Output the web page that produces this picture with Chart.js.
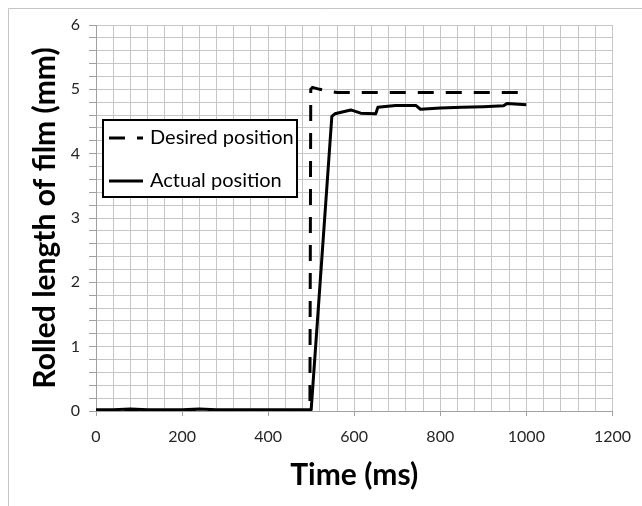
<!DOCTYPE html>
<html><head><meta charset="utf-8">
<script src="https://cdn.jsdelivr.net/npm/chart.js@4.4.0/dist/chart.umd.min.js"></script>
<style>html,body{margin:0;padding:0;background:#fff;}#wrap{width:642px;height:506px;position:relative;}</style>
</head><body><div id="wrap"><canvas id="c" width="642" height="506"></canvas></div>
<script>
const seriesNames = ['Desired position', 'Actual position'];
const desiredTime = [0, 100, 200, 300, 400, 497, 499, 503, 520, 540, 560, 1000];
const desiredPos  = [0, 0, 0, 0, 0, 0, 5.0, 5.03, 5.0, 4.97, 4.95, 4.95];
const actualTime = [0, 40, 80, 120, 160, 200, 240, 280, 320, 360, 400, 440, 480, 500, 548, 555, 592, 615, 650, 655, 696, 743, 754, 800, 850, 900, 947, 955, 1000];
const actualPos  = [0.02, 0.02, 0.03, 0.02, 0.02, 0.02, 0.03, 0.02, 0.02, 0.02, 0.02, 0.02, 0.02, 0.02, 4.58, 4.62, 4.68, 4.63, 4.62, 4.72, 4.75, 4.75, 4.69, 4.71, 4.72, 4.73, 4.745, 4.78, 4.76];
const xTickLabels = [0, 200, 400, 600, 800, 1000, 1200];
const yTickLabels = [0, 1, 2, 3, 4, 5, 6];
const xTitle = 'Time (ms)';
const yTitle = 'Rolled length of film (mm)';

const FONT = 'Lato, "Open Sans", sans-serif';
const GRID = '#c6c6c6';
const AXIS = '#a0a0a0';

const isMajorX = v => xTickLabels.some(t => Math.abs(t - v) < 1e-6);
const isMajorY = v => yTickLabels.some(t => Math.abs(t - v) < 1e-6);

const frame = {
  id: 'frame',
  beforeDraw(chart) {
    const c = chart.ctx;
    c.save();
    c.fillStyle = '#fff';
    c.fillRect(0, 0, chart.width, chart.height);
    c.strokeStyle = '#c4c4c4';
    c.lineWidth = 1;
    c.beginPath();
    c.moveTo(8.5, 506); c.lineTo(8.5, 8.5); c.lineTo(642, 8.5);
    c.stroke();
    c.restore();
  }
};

const legendBox = {
  id: 'legendBox',
  afterDraw(chart) {
    const c = chart.ctx;
    c.save();
    const x = 103, y = 120, w = 194, h = 77;
    c.fillStyle = '#fff';
    c.fillRect(x, y, w, h);
    c.strokeStyle = '#000';
    c.lineWidth = 2;
    c.strokeRect(x, y, w, h);
    const rows = [138, 181];
    chart.data.datasets.forEach((ds, i) => {
      c.beginPath();
      c.setLineDash(ds.borderDash || []);
      c.lineWidth = ds.borderWidth;
      c.strokeStyle = ds.borderColor;
      c.moveTo(109, rows[i]); c.lineTo(143, rows[i]);
      c.stroke();
      c.setLineDash([]);
      c.fillStyle = '#000';
      c.font = '20px ' + FONT;
      c.textBaseline = 'middle';
      c.textAlign = 'left';
      c.fillText(ds.label, 150, rows[i]);
    });
    c.restore();
  }
};

new Chart(document.getElementById('c'), {
  type: 'line',
  data: {
    datasets: [
      {
        label: seriesNames[0],
        data: desiredTime.map((t, i) => ({x: t, y: desiredPos[i]})),
        borderColor: '#000', borderWidth: 3, borderDash: [16, 12],
        pointRadius: 0, tension: 0, fill: false
      },
      {
        label: seriesNames[1],
        data: actualTime.map((t, i) => ({x: t, y: actualPos[i]})),
        borderColor: '#000', borderWidth: 3,
        pointRadius: 0, tension: 0, fill: false, borderJoinStyle: 'round'
      }
    ]
  },
  options: {
    responsive: false,
    animation: false,
    layout: {padding: {top: 25, right: 28, left: 0, bottom: 0}},
    plugins: {legend: {display: false}, tooltip: {enabled: false}},
    scales: {
      x: {
        type: 'linear', min: 0, max: 1200,
        afterFit: s => { s.height = 95; },
        ticks: {
          stepSize: 40, autoSkip: false, maxRotation: 0, padding: 11,
          color: '#262626', font: {family: FONT, size: 16},
          callback: v => isMajorX(v) ? String(Math.round(v)) : ''
        },
        grid: {
          color: GRID, lineWidth: 1, tickLength: 5,
          tickColor: ctx => isMajorX(ctx.tick.value) ? AXIS : 'rgba(0,0,0,0)'
        },
        border: {color: AXIS, width: 1},
        title: {display: true, text: xTitle, color: '#000',
          font: {family: FONT, size: 30, weight: 'bold'}, padding: {top: 0, bottom: 13}}
      },
      y: {
        type: 'linear', min: 0, max: 6,
        afterFit: s => { s.width = 96; },
        ticks: {
          stepSize: 0.2, autoSkip: false, padding: 9,
          color: '#262626', font: {family: FONT, size: 16},
          callback: v => isMajorY(v) ? String(Math.round(v)) : ''
        },
        grid: {
          color: GRID, lineWidth: 1, tickLength: 7,
          tickColor: AXIS
        },
        border: {color: AXIS, width: 1},
        title: {display: true, text: yTitle, color: '#000',
          font: {family: FONT, size: 30, weight: 'bold'}, padding: {top: 27, bottom: 0}}
      }
    }
  },
  plugins: [frame, legendBox]
});
</script>
</body></html>
